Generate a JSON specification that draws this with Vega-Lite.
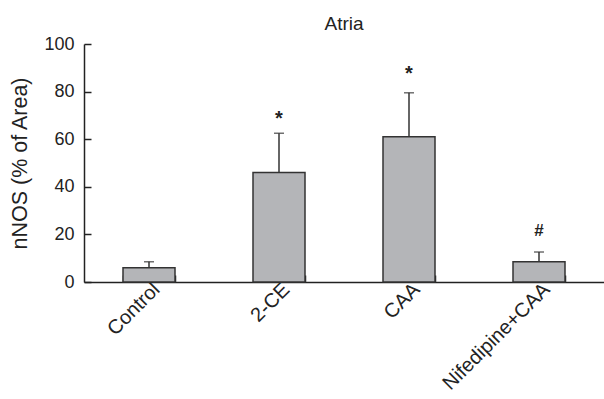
{
 "$schema": "https://vega.github.io/schema/vega-lite/v6.json",
 "width": 520,
 "height": 238,
 "autosize": {"type": "none"},
 "padding": {"left": 84, "top": 44, "right": 0, "bottom": 117},
 "background": "white",
 "config": {"view": {"stroke": null}, "font": "Liberation Sans"},
 "title": {"text": "Atria", "fontSize": 19, "fontWeight": "normal", "color": "#222", "offset": 1, "anchor": "middle", "font": "Liberation Sans"},
 "data": {"values": [
  {"group": "Control", "value": 6, "upper": 8.5, "mark": "", "markY": 0},
  {"group": "2-CE", "value": 46, "upper": 62.5, "mark": "*", "markY": 70},
  {"group": "CAA", "value": 61, "upper": 79.5, "mark": "*", "markY": 89},
  {"group": "Nifedipine+CAA", "value": 8.5, "upper": 12.6, "mark": "#", "markY": 23}
 ]},
 "encoding": {
  "x": {"field": "group", "type": "nominal", "sort": null, "title": null,
   "scale": {"paddingInner": 0.6, "paddingOuter": 0.3},
   "axis": {"labelAngle": -45, "labelAlign": "right", "labelBaseline": "top", "labelFontSize": 20, "labelColor": "#222", "labelPadding": 4,
    "tickBand": "extent", "tickSize": -7, "tickColor": "#222", "tickWidth": 1.5, "domainColor": "#222", "domainWidth": 1.5, "labelFont": "Liberation Sans"}}
 },
 "layer": [
  {"mark": {"type": "bar", "fill": "#b4b5b8", "stroke": "#333", "strokeWidth": 1.5},
   "encoding": {"y": {"field": "value", "type": "quantitative", "scale": {"domain": [0, 100]}, "title": "nNOS (% of Area)",
    "axis": {"values": [0, 20, 40, 60, 80, 100], "grid": false, "tickSize": -7, "tickColor": "#222", "tickWidth": 1.5, "domainColor": "#222", "domainWidth": 1.5,
     "labelFontSize": 18, "labelColor": "#222", "labelPadding": 17, "titleFontSize": 21.5, "titleFontWeight": "normal", "titleColor": "#222", "titlePadding": 12, "labelFont": "Liberation Sans", "titleFont": "Liberation Sans"}}}},
  {"mark": {"type": "rule", "stroke": "#333", "strokeWidth": 1.5},
   "encoding": {"y": {"field": "value", "type": "quantitative"}, "y2": {"field": "upper"}}},
  {"mark": {"type": "tick", "color": "#333", "size": 10, "thickness": 1.5},
   "encoding": {"y": {"field": "upper", "type": "quantitative"}}},
  {"mark": {"type": "text", "fontWeight": "bold", "color": "#222", "baseline": "middle", "dy": 4},
   "encoding": {"y": {"field": "markY", "type": "quantitative"}, "text": {"field": "mark"},
    "size": {"field": "mark", "type": "nominal", "scale": {"domain": ["*", "#", ""], "range": [20, 14, 10]}, "legend": null}}}
 ]
}
